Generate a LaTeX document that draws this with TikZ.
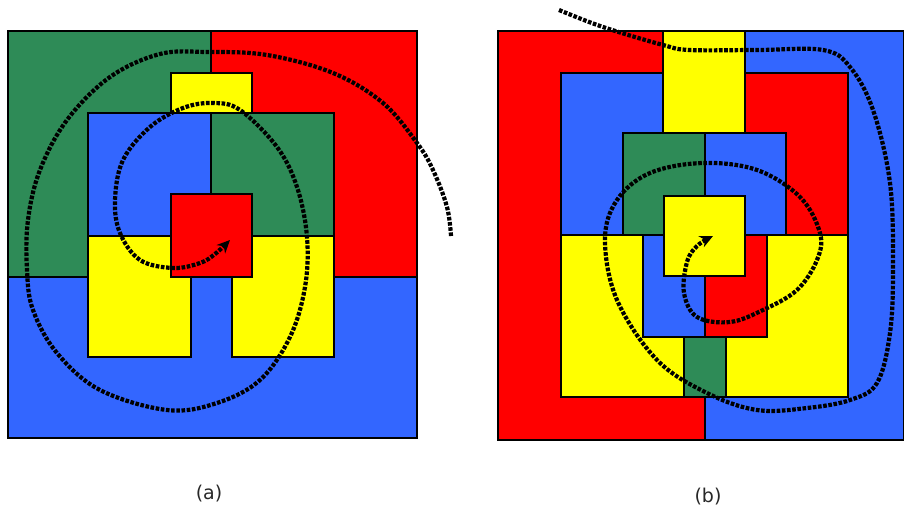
\documentclass[tikz,border=0pt]{standalone}
\usepackage{fontspec}
\setmainfont{DejaVu Sans}
\usetikzlibrary{arrows.meta}
\definecolor{cgreen}{RGB}{46,139,87}
\definecolor{cred}{RGB}{255,0,0}
\definecolor{cblue}{RGB}{51,102,255}
\definecolor{cyellow}{RGB}{255,255,0}
\definecolor{ctext}{RGB}{40,40,40}
\tikzset{
  blk/.style={draw=black, line width=1.1pt},
  spiral/.style={line width=4.2pt, dash pattern=on 3.6pt off 1.6pt, black, -{Stealth[length=13pt,width=12pt]}},
  captxt/.style={font=\fontsize{19}{22}\selectfont, text=ctext}
}
\begin{document}
\begin{tikzpicture}[x=1pt,y=-1pt]
\useasboundingbox (0,0) rectangle (904,514);
\fill[white] (0,0) rectangle (904,514);
% ---------- panel (a)
\filldraw[blk, fill=cgreen] (8,31) rectangle (211,277);
\filldraw[blk, fill=cred] (211,31) rectangle (417,277);
\filldraw[blk, fill=cblue] (8,277) rectangle (417,438);
\filldraw[blk, fill=cyellow] (171,73) rectangle (252,113);
\filldraw[blk, fill=cblue] (88,113) rectangle (211,236);
\filldraw[blk, fill=cgreen] (211,113) rectangle (334,236);
\filldraw[blk, fill=cyellow] (88,236) rectangle (191,357);
\filldraw[blk, fill=cyellow] (232,236) rectangle (334,357);
\filldraw[blk, fill=cred] (171,194) rectangle (252,277);
\draw[spiral] plot[smooth, tension=0.6] coordinates {
 (451,236) (447,207) (433,170) (417,143) (383,103) (333,73) (267,55) (207,52)
 (160,54) (110,77) (67,120) (40,170) (28,220) (27,270) (33,310) (57,353)
 (100,390) (167,410) (217,403) (260,380) (290,337) (305,287) (307,237)
 (297,187) (277,147) (240,110) (213,103) (183,108) (150,127) (123,160)
 (115,200) (120,233) (140,260) (173,268) (200,263) (215,254) (230,240)};
\node[captxt] (la) at (209,494) {(a)};
% ---------- panel (b)
\filldraw[blk, fill=cred] (498,31) rectangle (705,440);
\filldraw[blk, fill=cblue] (705,31) rectangle (903.5,440);
\filldraw[blk, fill=cyellow] (663,31) rectangle (745,133);
\filldraw[blk, fill=cblue] (561,73) rectangle (663,235);
\filldraw[blk, fill=cred] (745,73) rectangle (848,235);
\filldraw[blk, fill=cgreen] (623,133) rectangle (705,235);
\filldraw[blk, fill=cblue] (705,133) rectangle (786,235);
\filldraw[blk, fill=cyellow] (561,235) rectangle (684,397);
\filldraw[blk, fill=cyellow] (726,235) rectangle (848,397);
\filldraw[blk, fill=cgreen] (684,337) rectangle (726,397);
\filldraw[blk, fill=cblue] (643,235) rectangle (705,337);
\filldraw[blk, fill=cred] (705,235) rectangle (767,337);
\filldraw[blk, fill=cyellow] (664,196) rectangle (745,276);
\draw[spiral] plot[smooth, tension=0.6] coordinates {
 (559,10) (603,27) (663,45) (690,50) (757,50) (823,50) (850,67) (873,110)
 (890,183) (893,267) (890,333) (877,383) (850,400) (807,408) (757,410)
 (707,393) (657,360) (617,300) (605,240) (617,200) (650,173) (703,163)
 (757,170) (800,197) (820,233) (817,260) (797,290) (763,310) (730,322)
 (697,317) (684,293) (687,262) (697,246) (713,236)};
\node[captxt] (lb) at (708,497) {(b)};
\end{tikzpicture}
\end{document}
